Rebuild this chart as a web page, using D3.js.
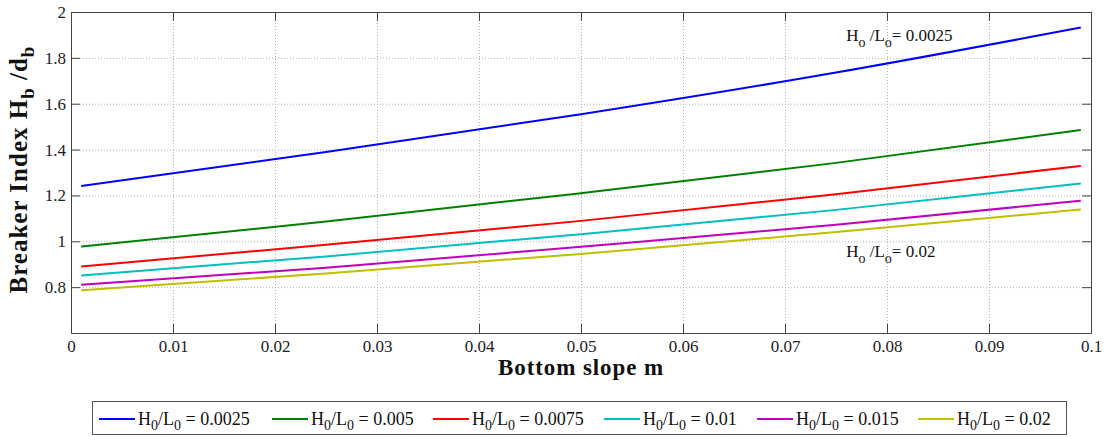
<!DOCTYPE html>
<html>
<head>
<meta charset="utf-8">
<script src="https://cdn.jsdelivr.net/npm/d3@7"></script>
<style>
  body { margin: 0; background: #fff; }
  svg { display: block; font-family: "Liberation Serif", "DejaVu Serif", serif; }
  svg text { font-family: "Liberation Serif", "DejaVu Serif", serif; }
</style>
</head>
<body>
<div id="chart"></div>
<script>
// bottom slope values where the curves were read
const slopes = [0.001, 0.025, 0.05, 0.075, 0.099]

// breaker index Hb/db for each deep water steepness Ho/Lo
const steepness = ["0.0025", "0.005", "0.0075", "0.01", "0.015", "0.02"]
const idx0025 = [1.241, 1.389, 1.554, 1.736, 1.932]
const idx005 = [0.977, 1.086, 1.210, 1.342, 1.485]
const idx0075 = [0.890, 0.985, 1.089, 1.205, 1.329]
const idx01 = [0.851, 0.934, 1.031, 1.137, 1.252]
const idx015 = [0.810, 0.885, 0.976, 1.072, 1.177]
const idx02 = [0.786, 0.860, 0.945, 1.040, 1.139]
const seriesValues = [idx0025, idx005, idx0075, idx01, idx015, idx02]
const colors = ["#0000ff", "#008000", "#ff0000", "#00bfbf", "#bf00bf", "#bfbf00"]

const xTicks = [0, 0.01, 0.02, 0.03, 0.04, 0.05, 0.06, 0.07, 0.08, 0.09, 0.1]
const yTicks = [0.8, 1, 1.2, 1.4, 1.6, 1.8, 2]

const MARGIN = { TOP: 12, LEFT: 71 }
const WIDTH = 1020
const HEIGHT = 321

const svg = d3.select("#chart").append("svg")
  .attr("width", 1110)
  .attr("height", 437)

const g = svg.append("g")
  .attr("transform", `translate(${MARGIN.LEFT}, ${MARGIN.TOP})`)

const x = d3.scaleLinear().domain([0, 0.1]).range([0, WIDTH])
const y = d3.scaleLinear().domain([0.6, 2]).range([HEIGHT, 0])
const fmt = d => String(+d.toFixed(3))

// grid
const gridColor = "#b0b0b0"
g.append("g")
  .attr("transform", `translate(0, ${HEIGHT})`)
  .call(d3.axisBottom(x).tickValues(xTicks.slice(1, -1)).tickSize(-HEIGHT).tickFormat(""))
  .call(a => a.select(".domain").remove())
  .call(a => a.selectAll("line").attr("stroke", gridColor).attr("stroke-dasharray", "1,2"))
g.append("g")
  .call(d3.axisLeft(y).tickValues(yTicks.slice(0, -1)).tickSize(-WIDTH).tickFormat(""))
  .call(a => a.select(".domain").remove())
  .call(a => a.selectAll("line").attr("stroke", gridColor).attr("stroke-dasharray", "1,2"))

// curves
const line = d3.line()
  .x(d => x(d[0]))
  .y(d => y(d[1]))
  .curve(d3.curveMonotoneX)

seriesValues.forEach((vals, i) => {
  g.append("path")
    .datum(slopes.map((m, j) => [m, vals[j]]))
    .attr("fill", "none")
    .attr("stroke", colors[i])
    .attr("stroke-width", 2)
    .attr("d", line)
})

// axes (ticks inside, box all round)
const axisColor = "#444"
const styleAxis = a => {
  a.attr("font-family", null).attr("font-size", 17)
  a.select(".domain").attr("stroke", axisColor)
  a.selectAll(".tick line").attr("stroke", axisColor)
  a.selectAll("text").attr("fill", "#222")
}
g.append("g")
  .attr("transform", `translate(0, ${HEIGHT})`)
  .call(d3.axisBottom(x).tickValues(xTicks).tickSizeInner(-9).tickSizeOuter(0).tickPadding(7).tickFormat(fmt))
  .call(styleAxis)
g.append("g")
  .call(d3.axisTop(x).tickValues(xTicks).tickSizeInner(-9).tickSizeOuter(0).tickFormat(""))
  .call(styleAxis)
g.append("g")
  .call(d3.axisLeft(y).tickValues(yTicks).tickSizeInner(-9).tickSizeOuter(0).tickPadding(5).tickFormat(fmt))
  .call(styleAxis)
g.append("g")
  .attr("transform", `translate(${WIDTH}, 0)`)
  .call(d3.axisRight(y).tickValues(yTicks).tickSizeInner(-9).tickSizeOuter(0).tickFormat(""))
  .call(styleAxis)

// helper for text with subscripts: parts = [[text, isSub], ...]
function richText(sel, parts, subShift, subSize) {
  let down = false
  parts.forEach(([t, sub]) => {
    const ts = sel.append("tspan").text(t)
    if (sub && !down) { ts.attr("dy", subShift).attr("font-size", subSize); down = true }
    else if (sub) { ts.attr("font-size", subSize) }
    else if (down) { ts.attr("dy", -subShift); down = false }
  })
}

// axis titles
g.append("text")
  .attr("x", WIDTH / 2)
  .attr("y", HEIGHT + 42)
  .attr("text-anchor", "middle")
  .attr("font-size", 23)
  .attr("letter-spacing", 0.9)
  .attr("font-weight", "bold")
  .attr("fill", "#111")
  .text("Bottom slope m")

const yLabel = g.append("text")
  .attr("transform", `translate(${-44}, ${HEIGHT / 2 - 3}) rotate(-90)`)
  .attr("text-anchor", "middle")
  .attr("font-size", 25)
  .attr("letter-spacing", 1)
  .attr("font-weight", "bold")
  .attr("fill", "#111")
richText(yLabel, [["Breaker Index H", false], ["b", true], [" /d", false], ["b", true]], 7, 19)

// annotations
const ann1 = g.append("text")
  .attr("x", x(0.076)).attr("y", y(1.875))
  .attr("font-size", 17).attr("fill", "#111")
richText(ann1, [["H", false], ["o", true], [" /L", false], ["o", true], ["= 0.0025", false]], 6, 14)
const ann2 = g.append("text")
  .attr("x", x(0.076)).attr("y", y(0.932))
  .attr("font-size", 17).attr("fill", "#111")
richText(ann2, [["H", false], ["o", true], [" /L", false], ["o", true], ["= 0.02", false]], 6, 14)

// legend
const legendX = [99, 272, 433, 604, 757, 918]
const legend = svg.append("g")
legend.append("rect")
  .attr("x", 92.5).attr("y", 401.5)
  .attr("width", 974).attr("height", 33)
  .attr("fill", "#fff").attr("stroke", "#555")
steepness.forEach((s, i) => {
  const item = legend.append("g").attr("transform", `translate(${legendX[i]}, 419)`)
  item.append("line")
    .attr("x1", 0).attr("x2", 36)
    .attr("stroke", colors[i]).attr("stroke-width", 2)
  const t = item.append("text")
    .attr("x", 39).attr("y", 6)
    .attr("font-size", 18).attr("fill", "#111")
  richText(t, [["H", false], ["0", true], ["/L", false], ["0", true], [" = " + s, false]], 5, 14)
})
</script>
</body>
</html>
